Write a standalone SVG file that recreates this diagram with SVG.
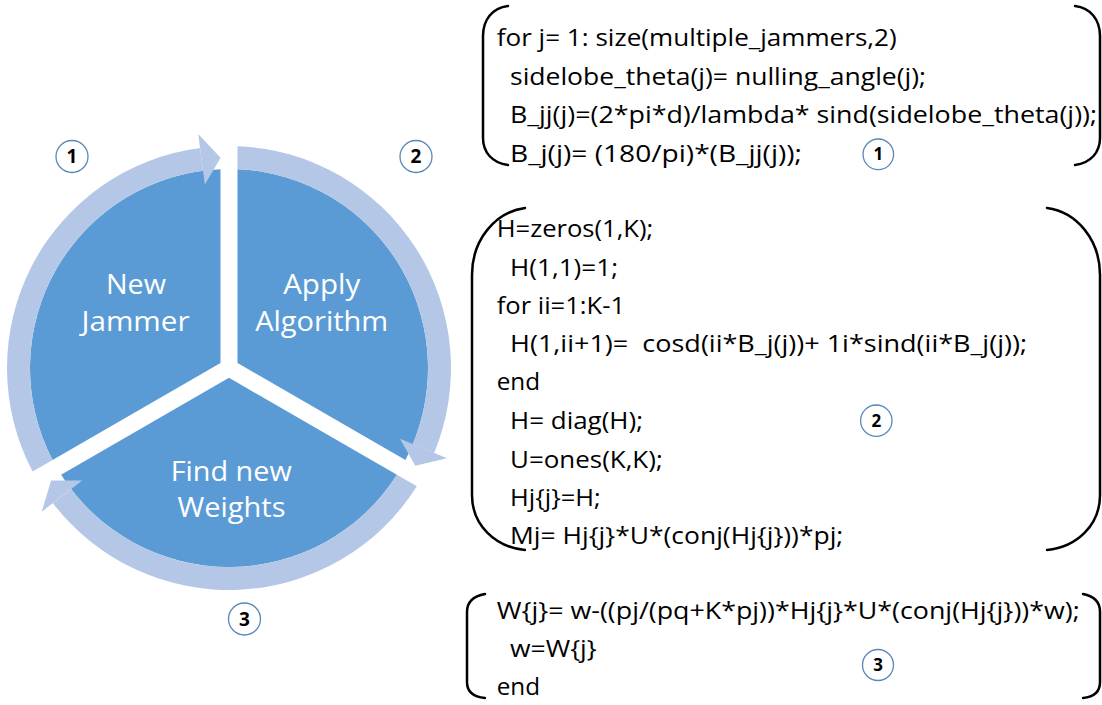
<svg xmlns="http://www.w3.org/2000/svg" width="1102" height="705" viewBox="0 0 1102 705">
<style>
.disk{fill:#5B9BD5}
.ring{fill:#B4C7E7}
.lbl{font-family:"Open Sans","Liberation Sans",sans-serif;font-size:28px;fill:#fff;text-anchor:middle}
.code{font-family:"Open Sans","Liberation Sans",sans-serif;font-size:24.5px;fill:#000;white-space:pre}
.br{fill:none;stroke:#000;stroke-width:2.5;stroke-linecap:round}
.nc{fill:#fff;stroke:#5A86BA;stroke-width:1.3}
.nl{font-family:"Open Sans","Liberation Sans",sans-serif;font-weight:700;font-size:19px;fill:#000;text-anchor:middle}
.ns{font-family:"Open Sans","Liberation Sans",sans-serif;font-weight:700;font-size:17px;fill:#000;text-anchor:middle}
</style>
<rect width="1102" height="705" fill="#fff"/>
<g id="cycle-new-jammer">
<path class="disk" d="M220.5 363.09 L52.57 460.05 A199 199 0 0 1 220.5 169.18 Z"/>
<path class="ring" d="M32.63 471.56 A222 222 0 0 1 200.02 147.9 L203.02 170.7 A199 199 0 0 0 52.57 460.05 Z"/>
<polygon class="ring" points="198.2,134.02 220.55,157.67 204.85,184.58"/>
<text class="lbl" x="136" y="294" textLength="60" lengthAdjust="spacingAndGlyphs">New</text>
<text class="lbl" x="135.5" y="330.7" textLength="108" lengthAdjust="spacingAndGlyphs">Jammer</text>
</g>
<g id="cycle-apply-algorithm">
<path class="disk" d="M237.5 363.09 L237.5 169.18 A199 199 0 0 1 405.43 460.05 Z"/>
<path class="ring" d="M237.5 146.16 A222 222 0 0 1 434.1 452.96 L412.85 444.15 A199 199 0 0 0 237.5 169.18 Z"/>
<polygon class="ring" points="447.04,458.31 415.37,465.85 399.92,438.8"/>
<text class="lbl" x="321.7" y="294" textLength="77" lengthAdjust="spacingAndGlyphs">Apply</text>
<text class="lbl" x="321.7" y="330.7" textLength="133" lengthAdjust="spacingAndGlyphs">Algorithm</text>
</g>
<g id="cycle-find-weights">
<path class="disk" d="M229 377.8 L396.93 474.77 A199 199 0 0 1 61.07 474.77 Z"/>
<path class="ring" d="M416.87 486.28 A222 222 0 0 1 52.88 503.14 L71.12 489.14 A199 199 0 0 0 396.93 474.77 Z"/>
<polygon class="ring" points="41.77,511.67 51.07,480.48 82.23,480.62"/>
<text class="lbl" x="231.2" y="481" textLength="121" lengthAdjust="spacingAndGlyphs">Find new</text>
<text class="lbl" x="231.5" y="517.3" textLength="108" lengthAdjust="spacingAndGlyphs">Weights</text>
</g>
<g id="badge-1"><circle class="nc" cx="72" cy="156.5" r="16"/><text class="nl" x="72" y="163.3">1</text></g>
<g id="badge-2"><circle class="nc" cx="416" cy="156.5" r="16"/><text class="nl" x="416" y="163.3">2</text></g>
<g id="badge-3"><circle class="nc" cx="244.5" cy="619" r="16"/><text class="nl" x="244.5" y="625.8">3</text></g>
<g id="code-block-1">
<path class="br" d="M508 6 C492 8 483 20 483 36 L483 138 C483 152 492 163 508 165"/>
<path class="br" d="M1075 6 C1091 8 1100 20 1100 36 L1100 138 C1100 152 1091 163 1075 165"/>
<text class="code" x="496.7" y="46" textLength="400" lengthAdjust="spacingAndGlyphs">for j= 1: size(multiple_jammers,2)</text>
<text class="code" x="510" y="84.5" textLength="416" lengthAdjust="spacingAndGlyphs">sidelobe_theta(j)= nulling_angle(j);</text>
<text class="code" x="510" y="123" textLength="587" lengthAdjust="spacingAndGlyphs">B_jj(j)=(2*pi*d)/lambda* sind(sidelobe_theta(j));</text>
<text class="code" x="510" y="161.5" textLength="292" lengthAdjust="spacingAndGlyphs">B_j(j)= (180/pi)*(B_jj(j));</text>
<circle class="nc" cx="878.3" cy="154.3" r="15.3"/><text class="ns" x="878.3" y="160.3">1</text>
</g>
<g id="code-block-2">
<path class="br" d="M525 208 C495 212 472 240 472 275 L472 495 C472 525 495 547 525 550"/>
<path class="br" d="M1047 208 C1077 212 1100 240 1100 275 L1100 495 C1100 525 1077 547 1047 550"/>
<text class="code" x="496.7" y="237.3" textLength="156.6" lengthAdjust="spacingAndGlyphs">H=zeros(1,K);</text>
<text class="code" x="510" y="276" textLength="108" lengthAdjust="spacingAndGlyphs">H(1,1)=1;</text>
<text class="code" x="496.7" y="314.3" textLength="128.3" lengthAdjust="spacingAndGlyphs">for ii=1:K-1</text>
<text class="code" x="510" y="352" textLength="517" lengthAdjust="spacingAndGlyphs">H(1,ii+1)=  cosd(ii*B_j(j))+ 1i*sind(ii*B_j(j));</text>
<text class="code" x="496.7" y="390" textLength="43.3" lengthAdjust="spacingAndGlyphs">end</text>
<text class="code" x="510" y="429" textLength="133" lengthAdjust="spacingAndGlyphs">H= diag(H);</text>
<text class="code" x="510" y="467.7" textLength="152.7" lengthAdjust="spacingAndGlyphs">U=ones(K,K);</text>
<text class="code" x="510" y="505.5" textLength="90.7" lengthAdjust="spacingAndGlyphs">Hj{j}=H;</text>
<text class="code" x="510" y="543.5" textLength="333.3" lengthAdjust="spacingAndGlyphs">Mj= Hj{j}*U*(conj(Hj{j}))*pj;</text>
<circle class="nc" cx="876.3" cy="420.7" r="15.7"/><text class="ns" x="876.3" y="426.7">2</text>
</g>
<g id="code-block-3">
<path class="br" d="M485 594 C474 596 467 602 467 612 L467 682 C467 692 474 697 485 698"/>
<path class="br" d="M1083 594 C1094 596 1100 602 1100 612 L1100 682 C1100 692 1094 697 1083 698"/>
<text class="code" x="496.7" y="619" textLength="583" lengthAdjust="spacingAndGlyphs">W{j}= w-((pj/(pq+K*pj))*Hj{j}*U*(conj(Hj{j}))*w);</text>
<text class="code" x="510" y="657" textLength="86.7" lengthAdjust="spacingAndGlyphs">w=W{j}</text>
<text class="code" x="496.7" y="695" textLength="43.3" lengthAdjust="spacingAndGlyphs">end</text>
<circle class="nc" cx="878" cy="665" r="15.5"/><text class="ns" x="878" y="671">3</text>
</g>
<g id="connectors"></g>
</svg>
